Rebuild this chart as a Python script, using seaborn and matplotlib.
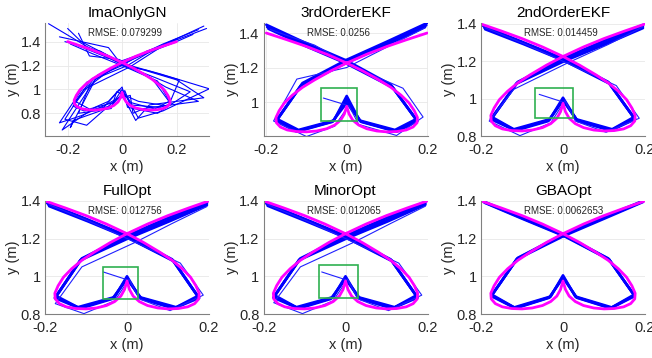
import numpy as np
import pandas as pd
import matplotlib
matplotlib.use('Agg')
import matplotlib.pyplot as plt
from matplotlib.patches import Rectangle
from matplotlib.ticker import FuncFormatter
import seaborn as sns

# reference trajectory (magenta)
ref_x = [-0.200, -0.150, -0.100, -0.050, 0.000, 0.040, 0.080, 0.110, 0.135, 0.155, 0.168, 0.176,
         0.175, 0.165, 0.148, 0.125, 0.100, 0.075, 0.050, 0.030, 0.015, 0.006, 0.000,
         -0.006, -0.015, -0.030, -0.050, -0.075, -0.100, -0.125, -0.148, -0.165, -0.175,
         -0.176, -0.168, -0.155, -0.135, -0.110, -0.080, -0.040, 0.000, 0.050, 0.100, 0.150, 0.200]
ref_y = [1.400, 1.362, 1.322, 1.277, 1.226, 1.180, 1.128, 1.085, 1.040, 0.995, 0.950, 0.910,
         0.880, 0.855, 0.838, 0.829, 0.827, 0.832, 0.845, 0.866, 0.895, 0.930, 0.975,
         0.930, 0.895, 0.866, 0.845, 0.832, 0.827, 0.829, 0.838, 0.855, 0.880,
         0.910, 0.950, 0.995, 1.040, 1.085, 1.128, 1.180, 1.226, 1.277, 1.322, 1.362, 1.400]

# estimated laps (blue), one row per lap
gn_x = [
    [-0.195, -0.100, 0.000, 0.110, 0.172, 0.120, 0.032, 0.000, -0.032, -0.120, -0.172, -0.110, 0.000, 0.100, 0.195],
    [-0.270, -0.130, -0.020, 0.140, 0.320, 0.150, 0.060, 0.010, -0.060, -0.150, -0.230, -0.130, 0.020, 0.120, 0.300],
    [-0.200, -0.150, 0.010, 0.200, 0.300, 0.100, 0.050, -0.010, -0.050, -0.100, -0.220, -0.100, 0.010, 0.150, 0.280],
    [-0.210, -0.080, 0.030, 0.120, 0.250, 0.130, 0.020, 0.000, -0.080, -0.180, -0.190, -0.090, -0.010, 0.080, 0.200],
    [-0.160, -0.120, -0.010, 0.160, 0.280, 0.080, 0.040, 0.030, -0.020, -0.130, -0.210, -0.140, 0.030, 0.160, 0.310],
    [-0.230, -0.050, 0.000, 0.090, 0.210, 0.170, 0.060, -0.020, -0.040, -0.160, -0.160, -0.120, 0.000, 0.200, 0.260],
    [-0.190, -0.110, 0.010, 0.130, 0.180, 0.140, 0.030, 0.010, -0.040, -0.140, -0.180, -0.100, 0.000, 0.090, 0.190],
]
gn_y = [
    [1.395, 1.310, 1.215, 1.090, 0.900, 0.836, 0.890, 1.000, 0.890, 0.836, 0.900, 1.090, 1.215, 1.310, 1.395],
    [1.550, 1.360, 1.230, 1.130, 1.005, 0.820, 0.760, 0.960, 0.870, 0.780, 0.720, 1.060, 1.200, 1.340, 1.530],
    [1.510, 1.400, 1.210, 1.080, 0.930, 0.870, 0.740, 1.000, 0.900, 0.850, 0.660, 1.080, 1.230, 1.380, 1.500],
    [1.400, 1.320, 1.180, 1.100, 0.980, 0.800, 0.850, 1.020, 0.820, 0.740, 0.680, 1.120, 1.210, 1.300, 1.420],
    [1.470, 1.280, 1.250, 1.020, 0.900, 0.840, 0.800, 0.950, 0.920, 0.700, 0.750, 1.000, 1.190, 1.380, 1.510],
    [1.440, 1.350, 1.200, 1.160, 1.080, 0.860, 0.900, 0.980, 0.840, 0.800, 0.800, 1.030, 1.240, 1.400, 1.460],
    [1.380, 1.300, 1.190, 1.070, 0.880, 0.850, 0.870, 0.990, 0.860, 0.820, 0.860, 1.100, 1.200, 1.320, 1.400],
]

ekf3_x = [
    [-0.200, -0.100, 0.000, 0.110, 0.172, 0.120, 0.032, 0.000, -0.032, -0.120, -0.172, -0.110, 0.000, 0.100, 0.200],
    [-0.198, -0.100, 0.000, 0.112, 0.174, 0.122, 0.034, 0.000, -0.034, -0.122, -0.174, -0.112, 0.000, 0.100, 0.198],
    [-0.195, -0.100, 0.000, 0.114, 0.176, 0.124, 0.036, 0.000, -0.036, -0.124, -0.176, -0.114, 0.000, 0.100, 0.195],
    [-0.190, -0.080, 0.020, 0.140, 0.190, 0.124, 0.030, 0.005, -0.030, -0.100, -0.182, -0.124, 0.000, 0.110, 0.195],
]
ekf3_y = [
    [1.448, 1.340, 1.240, 1.100, 0.900, 0.838, 0.893, 1.035, 0.893, 0.838, 0.900, 1.110, 1.245, 1.350, 1.458],
    [1.435, 1.330, 1.230, 1.092, 0.895, 0.832, 0.888, 1.015, 0.888, 0.832, 0.895, 1.100, 1.235, 1.340, 1.445],
    [1.425, 1.322, 1.222, 1.085, 0.890, 0.828, 0.885, 0.995, 0.885, 0.828, 0.890, 1.095, 1.228, 1.332, 1.435],
    [1.420, 1.330, 1.200, 1.080, 0.913, 0.806, 0.870, 0.980, 0.860, 0.800, 0.890, 1.133, 1.200, 1.330, 1.430],
]

ekf2_x = [
    [-0.195, -0.100, 0.000, 0.110, 0.172, 0.120, 0.032, 0.000, -0.032, -0.120, -0.172, -0.110, 0.000, 0.100, 0.195],
    [-0.192, -0.098, 0.002, 0.112, 0.174, 0.118, 0.034, 0.000, -0.034, -0.118, -0.174, -0.112, 0.002, 0.102, 0.195],
    [-0.190, -0.096, 0.004, 0.114, 0.176, 0.116, 0.036, 0.000, -0.036, -0.116, -0.176, -0.114, 0.004, 0.104, 0.195],
    [-0.190, -0.090, 0.010, 0.130, 0.186, 0.105, 0.030, 0.005, -0.030, -0.105, -0.180, -0.120, 0.010, 0.110, 0.195],
]
ekf2_y = [
    [1.390, 1.305, 1.215, 1.090, 0.900, 0.836, 0.890, 1.005, 0.890, 0.836, 0.900, 1.090, 1.215, 1.310, 1.395],
    [1.380, 1.298, 1.208, 1.085, 0.895, 0.832, 0.885, 0.995, 0.885, 0.832, 0.895, 1.085, 1.208, 1.300, 1.385],
    [1.372, 1.292, 1.202, 1.080, 0.890, 0.829, 0.880, 0.990, 0.880, 0.829, 0.890, 1.080, 1.202, 1.292, 1.378],
    [1.380, 1.290, 1.190, 1.070, 0.895, 0.820, 0.880, 0.990, 0.870, 0.802, 0.880, 1.050, 1.190, 1.290, 1.385],
]

full_x = [
    [-0.195, -0.100, 0.000, 0.110, 0.172, 0.120, 0.030, 0.000, -0.030, -0.120, -0.172, -0.110, 0.000, 0.100, 0.195],
    [-0.192, -0.098, 0.002, 0.112, 0.174, 0.117, 0.033, 0.000, -0.033, -0.117, -0.174, -0.112, 0.002, 0.102, 0.195],
    [-0.190, -0.096, 0.004, 0.114, 0.176, 0.114, 0.036, 0.000, -0.036, -0.114, -0.176, -0.114, 0.004, 0.104, 0.195],
    [-0.190, -0.090, 0.015, 0.130, 0.186, 0.105, 0.030, 0.005, -0.030, -0.105, -0.175, -0.110, 0.020, 0.110, 0.195],
]
full_y = [
    [1.388, 1.305, 1.215, 1.090, 0.895, 0.836, 0.890, 1.000, 0.890, 0.836, 0.895, 1.095, 1.215, 1.310, 1.392],
    [1.380, 1.298, 1.208, 1.085, 0.890, 0.832, 0.885, 0.992, 0.885, 0.832, 0.890, 1.090, 1.208, 1.300, 1.385],
    [1.372, 1.292, 1.202, 1.080, 0.885, 0.829, 0.880, 0.985, 0.880, 0.829, 0.885, 1.085, 1.202, 1.292, 1.378],
    [1.380, 1.290, 1.185, 1.070, 0.900, 0.818, 0.880, 0.985, 0.870, 0.802, 0.855, 1.050, 1.180, 1.280, 1.370],
]

minor_x = [
    [-0.195, -0.100, 0.000, 0.110, 0.172, 0.120, 0.030, 0.000, -0.030, -0.120, -0.172, -0.110, 0.000, 0.100, 0.195],
    [-0.192, -0.098, 0.002, 0.112, 0.174, 0.117, 0.033, 0.000, -0.033, -0.117, -0.174, -0.112, 0.002, 0.102, 0.195],
    [-0.190, -0.096, 0.004, 0.114, 0.176, 0.114, 0.036, 0.000, -0.036, -0.114, -0.176, -0.114, 0.004, 0.104, 0.195],
    [-0.190, -0.090, 0.015, 0.130, 0.186, 0.105, 0.030, 0.005, -0.030, -0.105, -0.175, -0.110, 0.020, 0.110, 0.195],
]
minor_y = [
    [1.390, 1.305, 1.215, 1.090, 0.898, 0.836, 0.890, 1.000, 0.890, 0.836, 0.898, 1.095, 1.215, 1.310, 1.395],
    [1.382, 1.298, 1.208, 1.085, 0.892, 0.832, 0.885, 0.992, 0.885, 0.832, 0.892, 1.090, 1.208, 1.300, 1.388],
    [1.374, 1.292, 1.202, 1.080, 0.887, 0.829, 0.880, 0.985, 0.880, 0.829, 0.887, 1.085, 1.202, 1.292, 1.380],
    [1.380, 1.290, 1.185, 1.070, 0.900, 0.818, 0.880, 0.985, 0.870, 0.802, 0.860, 1.050, 1.180, 1.280, 1.372],
]

gba_x = [
    [-0.195, -0.100, 0.000, 0.110, 0.173, 0.119, 0.030, 0.000, -0.030, -0.119, -0.173, -0.110, 0.000, 0.100, 0.195],
    [-0.193, -0.099, 0.001, 0.112, 0.174, 0.117, 0.032, 0.000, -0.032, -0.117, -0.174, -0.112, 0.001, 0.101, 0.195],
    [-0.191, -0.098, 0.002, 0.113, 0.175, 0.116, 0.034, 0.000, -0.034, -0.116, -0.175, -0.113, 0.002, 0.102, 0.195],
]
gba_y = [
    [1.398, 1.312, 1.222, 1.095, 0.902, 0.835, 0.893, 1.005, 0.893, 0.835, 0.902, 1.098, 1.222, 1.315, 1.400],
    [1.394, 1.308, 1.218, 1.091, 0.898, 0.832, 0.889, 0.998, 0.889, 0.832, 0.898, 1.094, 1.218, 1.311, 1.397],
    [1.390, 1.304, 1.214, 1.088, 0.895, 0.830, 0.886, 0.992, 0.886, 0.830, 0.895, 1.090, 1.214, 1.307, 1.394],
]

# initial stray segment of the filters
start_x = [-0.058, 0.000]
start_y = [1.023, 0.982]

titles = ['ImaOnlyGN', '3rdOrderEKF', '2ndOrderEKF', 'FullOpt', 'MinorOpt', 'GBAOpt']
rmse = ['0.079299', '0.0256', '0.014459', '0.012756', '0.012065', '0.0062653']
laps_x = [gn_x, ekf3_x, ekf2_x, full_x, minor_x, gba_x]
laps_y = [gn_y, ekf3_y, ekf2_y, full_y, minor_y, gba_y]
has_start = [False, True, True, True, True, False]
# index of the lap that strays from the bundle (drawn thin), None = none
outlier = [None, 3, 3, 3, 3, None]

# green zoom box: x0, x1, y0, y1 (None = no box)
boxes = [None,
         (-0.063, 0.025, 0.892, 1.081),
         (-0.068, 0.024, 0.895, 1.056),
         (-0.059, 0.026, 0.881, 1.049),
         (-0.065, 0.031, 0.885, 1.058),
         None]

xlims = [(-0.283, 0.319), (-0.207, 0.201), (-0.2, 0.2), (-0.2, 0.2), (-0.2, 0.2), (-0.2, 0.2)]
ylims = [(0.61, 1.56), (0.803, 1.461), (0.8, 1.408), (0.8, 1.402), (0.8, 1.402), (0.8, 1.402)]
yticks = [[0.8, 1, 1.2, 1.4], [1, 1.2, 1.4], [0.8, 1, 1.2, 1.4],
          [0.8, 1, 1.2, 1.4], [0.8, 1, 1.2, 1.4], [0.8, 1, 1.2, 1.4]]

sns.set_style('whitegrid')
plt.rcParams['font.family'] = ['Liberation Sans', 'DejaVu Sans']
plt.rcParams['axes.unicode_minus'] = False

W, H = 652, 358
fig = plt.figure(figsize=(W / 100, H / 100), dpi=100)
lefts = [45, 263.5, 481]
bottoms = [222, 44]
aw, ah = 164, 113.5

fmt = FuncFormatter(lambda v, p: f'{v:g}')
txt_col = '#262626'

for i in range(6):
    r, c = divmod(i, 3)
    ax = fig.add_axes([lefts[c] / W, bottoms[r] / H, aw / W, ah / H])

    rows = []
    for k, (lx, ly) in enumerate(zip(laps_x[i], laps_y[i])):
        for px, py in zip(lx, ly):
            rows.append((k, px, py))
    df = pd.DataFrame(rows, columns=['lap', 'x', 'y'])
    core = df[df['lap'] != outlier[i]]
    lw = 0.8 if i == 0 else 1.9
    sns.lineplot(data=core, x='x', y='y', units='lap', estimator=None, sort=False,
                 color='#0000ff', lw=lw, ax=ax)
    if outlier[i] is not None:
        sns.lineplot(data=df[df['lap'] == outlier[i]], x='x', y='y', estimator=None,
                     sort=False, color='#2020ff', lw=0.8, ax=ax)
    if has_start[i]:
        sns.lineplot(x=start_x, y=start_y, sort=False, estimator=None,
                     color='#2020ff', lw=0.8, ax=ax)
    sns.lineplot(x=ref_x, y=ref_y, sort=False, estimator=None,
                 color='#ff00ff', lw=2.0, ax=ax)

    if boxes[i] is not None:
        x0, x1, y0, y1 = boxes[i]
        ax.add_patch(Rectangle((x0, y0), x1 - x0, y1 - y0, fill=False,
                               edgecolor='#2fb050', lw=1.2, zorder=5))

    ax.set_xlim(*xlims[i])
    ax.set_ylim(*ylims[i])
    ax.set_xticks([-0.2, 0, 0.2])
    ax.set_yticks(yticks[i])
    ax.xaxis.set_major_formatter(fmt)
    ax.yaxis.set_major_formatter(fmt)
    ax.tick_params(axis='both', labelsize=10.5, colors=txt_col, length=0)
    ax.tick_params(axis='x', pad=5)
    ax.tick_params(axis='y', pad=3)
    ax.grid(True, color='#e8e8e8', lw=0.6)
    for s in ['top', 'right']:
        ax.spines[s].set_visible(False)
    for s in ['left', 'bottom']:
        ax.spines[s].set_color('#808080')
        ax.spines[s].set_linewidth(0.8)

    ax.set_title(titles[i], fontsize=11, color='black', pad=4)
    ax.set_xlabel('x (m)', fontsize=10.5, color=txt_col)
    ax.set_ylabel('y (m)', fontsize=10.5, color=txt_col)
    ax.xaxis.set_label_coords(0.5, -0.27)
    ax.xaxis.label.set_va('center')
    ax.yaxis.set_label_coords(-0.195, 0.5)
    ax.yaxis.label.set_va('center')

    ax.text(0.265, 0.905, 'RMSE: ' + rmse[i], transform=ax.transAxes,
            fontsize=7, ha='left', va='center', color=txt_col, zorder=6)

plt.savefig('out.png', dpi=100)
